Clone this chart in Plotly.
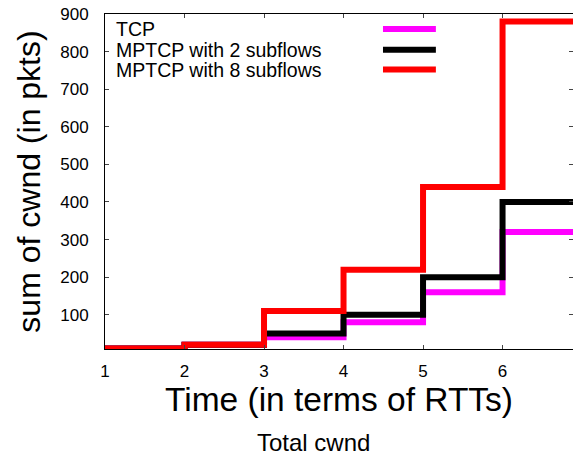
import plotly.graph_objects as go

# Data
rtt = [1, 2, 3, 4, 5, 6, 7]
tcp = [10, 20, 40, 80, 160, 320, 320]
mptcp2 = [10, 20, 50, 100, 200, 400, 400]
mptcp8 = [10, 20, 110, 220, 440, 880, 880]
series_names = ["TCP", "MPTCP with 2 subflows", "MPTCP with 8 subflows"]
series_colors = ["#ff00ff", "#000000", "#ff0000"]
x_ticks = [1, 2, 3, 4, 5, 6]
y_ticks = [100, 200, 300, 400, 500, 600, 700, 800, 900]

FONT = "Liberation Sans, Arial, Helvetica, sans-serif"

fig = go.Figure()
for name, vals, col in zip(series_names, [tcp, mptcp2, mptcp8], series_colors):
    fig.add_trace(go.Scatter(
        x=rtt, y=vals, name=name, mode="lines",
        line=dict(color=col, width=6, shape="hv"),
        showlegend=False, hoverinfo="skip",
    ))

# gnuplot-style legend: text on the left, line sample on the right
legend_y = [0.955, 0.8935, 0.834]
for name, col, ly in zip(series_names, series_colors, legend_y):
    fig.add_annotation(x=0.02, y=ly, xref="paper", yref="paper",
                       text=name, showarrow=False, xanchor="left", yanchor="middle",
                       font=dict(family=FONT, size=19.5, color="black"))
    fig.add_shape(type="line", xref="paper", yref="paper",
                  x0=0.594, x1=0.707, y0=ly, y1=ly,
                  line=dict(color=col, width=6))

# bottom caption
fig.add_annotation(x=0.445, y=-0.278, xref="paper", yref="paper",
                   text="Total cwnd", showarrow=False, xanchor="center", yanchor="middle",
                   font=dict(family=FONT, size=24, color="black"))

fig.update_layout(
    width=573, height=456,
    margin=dict(l=105, r=0, t=14, b=107, autoexpand=False),
    paper_bgcolor="white", plot_bgcolor="white",
    font=dict(family=FONT, size=17, color="black"),
    xaxis=dict(
        range=[1, 6.886], tickvals=x_ticks, ticks="inside", ticklen=4,
        tickcolor="#444", showline=True, linecolor="black", linewidth=1,
        mirror="ticks", showgrid=False, zeroline=False, automargin=False,
        ticklabelstandoff=7, ticklabeloverflow="allow",
        tickfont=dict(family=FONT, size=17, color="black"),
        title=dict(text="Time (in terms of RTTs)", standoff=3,
                   font=dict(family=FONT, size=33.5, color="black")),
    ),
    yaxis=dict(
        range=[9, 900], tickvals=y_ticks, ticks="inside", ticklen=4,
        tickcolor="#444", showline=True, linecolor="black", linewidth=1,
        mirror="ticks", showgrid=False, zeroline=False, automargin=False,
        ticklabelstandoff=12, ticklabeloverflow="allow",
        tickfont=dict(family=FONT, size=17, color="black"),
        title=dict(text="sum of cwnd (in pkts)", standoff=10,
                   font=dict(family=FONT, size=32, color="black")),
    ),
)

# remove the browser's default 8px body margin so the figure fills the window
fig.write_html(
    "out.html",
    config={"displayModeBar": False},
    post_script="document.body.style.margin='0';document.body.style.overflow='hidden';",
)
